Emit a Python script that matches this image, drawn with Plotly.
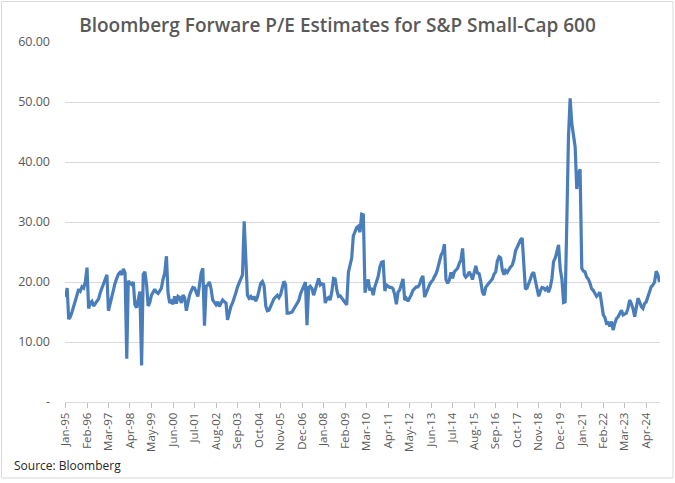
import pandas as pd
import plotly.graph_objects as go

# Monthly forward P/E values (Jan-95 .. Dec-24)
pe_1995_1999 = [
    17.5, 19.0, 13.8, 14.2, 15.0, 16.0, 17.0, 17.8, 18.8, 18.5, 19.2, 19.0,
    20.0, 22.4, 15.6, 16.5, 16.8, 16.0, 16.4, 16.6, 17.2, 18.2, 19.0, 19.8,
    20.4, 21.2, 15.2, 16.5, 17.8, 19.0, 19.8, 20.6, 21.3, 21.6, 21.2, 22.2,
    21.5, 7.2, 20.2, 19.8, 19.6, 20.0, 16.2, 15.7, 17.5, 18.4, 6.1, 21.3,
    21.7, 19.5, 16.0, 16.6, 17.8, 18.4, 18.8, 18.3, 18.1, 18.5, 19.0, 20.5,
]
pe_2000_2009 = [
    21.5, 24.3, 18.2, 16.5, 16.8, 16.3, 17.6, 16.4, 17.6, 17.4, 16.5, 17.8,
    17.4, 15.2, 16.5, 17.8, 18.5, 19.1, 19.0, 18.3, 17.6, 19.5, 21.5, 22.3,
    12.7, 19.3, 19.5, 20.0, 18.9, 17.0, 16.7, 16.2, 16.7, 15.9, 16.5, 17.0,
    16.7, 16.5, 13.7, 15.1, 15.9, 16.5, 17.2, 18.2, 19.2, 19.8, 20.4, 21.2,
    30.1, 22.0, 17.8, 17.3, 17.6, 17.1, 17.6, 16.8, 17.5, 18.6, 19.8, 20.1,
    19.4, 16.0, 15.2, 15.3, 16.0, 16.8, 17.2, 17.5, 17.8, 17.4, 17.9, 19.0,
    20.1, 19.6, 14.8, 14.8, 14.9, 15.0, 15.5, 15.9, 16.3, 16.9, 18.0, 18.6,
    19.3, 20.0, 12.8, 19.1, 19.3, 18.9, 17.8, 18.8, 19.6, 20.6, 19.5, 19.7,
    19.6, 16.5, 17.2, 17.4, 17.0, 18.4, 20.6, 20.5, 18.6, 17.6, 17.7, 17.3,
    16.8, 16.4, 16.2, 21.6, 22.8, 24.0, 27.7, 28.4, 29.1, 29.3, 28.3, 31.3,
]
pe_2010_2019 = [
    31.2, 18.2, 19.6, 20.4, 18.6, 19.0, 17.8, 19.2, 20.1, 20.9, 22.5, 23.3,
    23.4, 18.5, 19.5, 19.2, 19.1, 19.1, 18.9, 17.9, 16.3, 18.3, 18.7, 19.6,
    20.5, 17.0, 17.3, 16.8, 17.3, 17.9, 18.6, 19.0, 19.2, 19.2, 19.6, 20.5,
    21.0, 17.5, 18.2, 18.9, 19.5, 20.0, 20.3, 20.9, 21.4, 22.3, 23.6, 24.5,
    25.0, 26.3, 20.4, 19.8, 20.3, 21.6, 20.6, 21.7, 22.0, 22.3, 23.1, 23.7,
    25.6, 21.2, 20.8, 21.1, 21.7, 21.2, 20.4, 21.6, 22.7, 21.5, 21.4, 20.1,
    18.3, 17.8, 19.1, 19.5, 19.8, 20.2, 20.5, 21.3, 21.7, 23.5, 24.2, 24.0,
    22.0, 21.2, 21.9, 21.6, 22.2, 22.5, 22.8, 23.7, 25.2, 25.8, 26.5, 27.0,
    27.3, 22.0, 18.8, 19.0, 19.6, 20.5, 21.3, 21.6, 20.2, 19.0, 17.6, 18.5,
    19.1, 19.0, 18.7, 19.0, 18.3, 19.1, 20.5, 23.4, 24.0, 25.0, 26.2, 22.2,
]
pe_2020_2024 = [
    20.5, 16.6, 16.7, 30.0, 44.0, 50.6, 46.5, 44.5, 42.5, 35.5, 38.0, 38.8,
    22.3, 21.8, 21.7, 20.8, 20.5, 19.8, 18.9, 18.6, 18.0, 17.6, 17.9, 18.3,
    16.4, 14.5, 14.1, 13.1, 13.2, 12.6, 13.4, 12.0, 13.1, 13.9, 14.2, 14.8,
    15.3, 14.5, 14.6, 14.8, 15.6, 17.0, 16.4, 15.6, 14.2, 15.6, 17.3, 16.7,
    15.9, 15.6, 16.4, 16.7, 17.6, 18.6, 19.2, 19.5, 20.0, 21.8, 21.2, 20.0,
]

pe_values = pe_1995_1999 + pe_2000_2009 + pe_2010_2019 + pe_2020_2024
months = pd.date_range("1995-01-01", periods=len(pe_values), freq="MS")

y_tick_values = [0, 10, 20, 30, 40, 50, 60]
y_tick_labels = ["-", "10.00", "20.00", "30.00", "40.00", "50.00", "60.00"]

title_text = "Bloomberg Forware P/E Estimates for S&P Small-Cap 600"
source_text = "Source: Bloomberg"

FONT = "Open Sans"
GREY = "#595959"

fig = go.Figure()
fig.add_trace(go.Scatter(
    x=months, y=pe_values, mode="lines",
    line=dict(color="#4a7ebb", width=3.2),
    hoverinfo="skip", showlegend=False,
))

fig.update_layout(
    width=675, height=483,
    margin=dict(l=65, r=15, t=42, b=81),
    paper_bgcolor="white", plot_bgcolor="white",
    title=dict(
        text=title_text, x=0.5, xref="container", xanchor="center",
        y=0.948, yref="container", yanchor="middle",
        font=dict(family=FONT, size=19, color=GREY, weight=600),
    ),
    font=dict(family=FONT, color=GREY),
)

fig.update_xaxes(
    type="date",
    range=["1994-12-23", "2024-12-10"],
    tick0="1995-01-01", dtick="M13", tickformat="%b-%y",
    tickangle=-90,
    tickfont=dict(family=FONT, size=11.5, color=GREY),
    ticks="outside", ticklen=5, tickcolor="#bfbfbf", tickwidth=1,
    showline=True, linecolor="#d9d9d9", linewidth=1,
    showgrid=False, zeroline=False,
)
fig.update_yaxes(
    range=[0, 60],
    tickvals=y_tick_values, ticktext=y_tick_labels,
    tickfont=dict(family=FONT, size=12.5, color=GREY),
    showgrid=True, gridcolor="#d9d9d9", gridwidth=1,
    zeroline=False, showline=False,
    ticklabelstandoff=14,
)

# chart border
fig.add_shape(
    type="rect", xref="paper", yref="paper",
    x0=-0.1067, x1=1.0218, y0=-0.2111, y1=1.1125,
    line=dict(color="#d9d9d9", width=1), fillcolor="rgba(0,0,0,0)",
    layer="below",
)

fig.add_annotation(
    text=source_text, xref="paper", yref="paper",
    x=(12 - 65) / 595, y=(402 - 465) / 360,
    xanchor="left", yanchor="middle", showarrow=False,
    font=dict(family=FONT, size=12, color="#262626"),
)

fig.write_html("out.html")
